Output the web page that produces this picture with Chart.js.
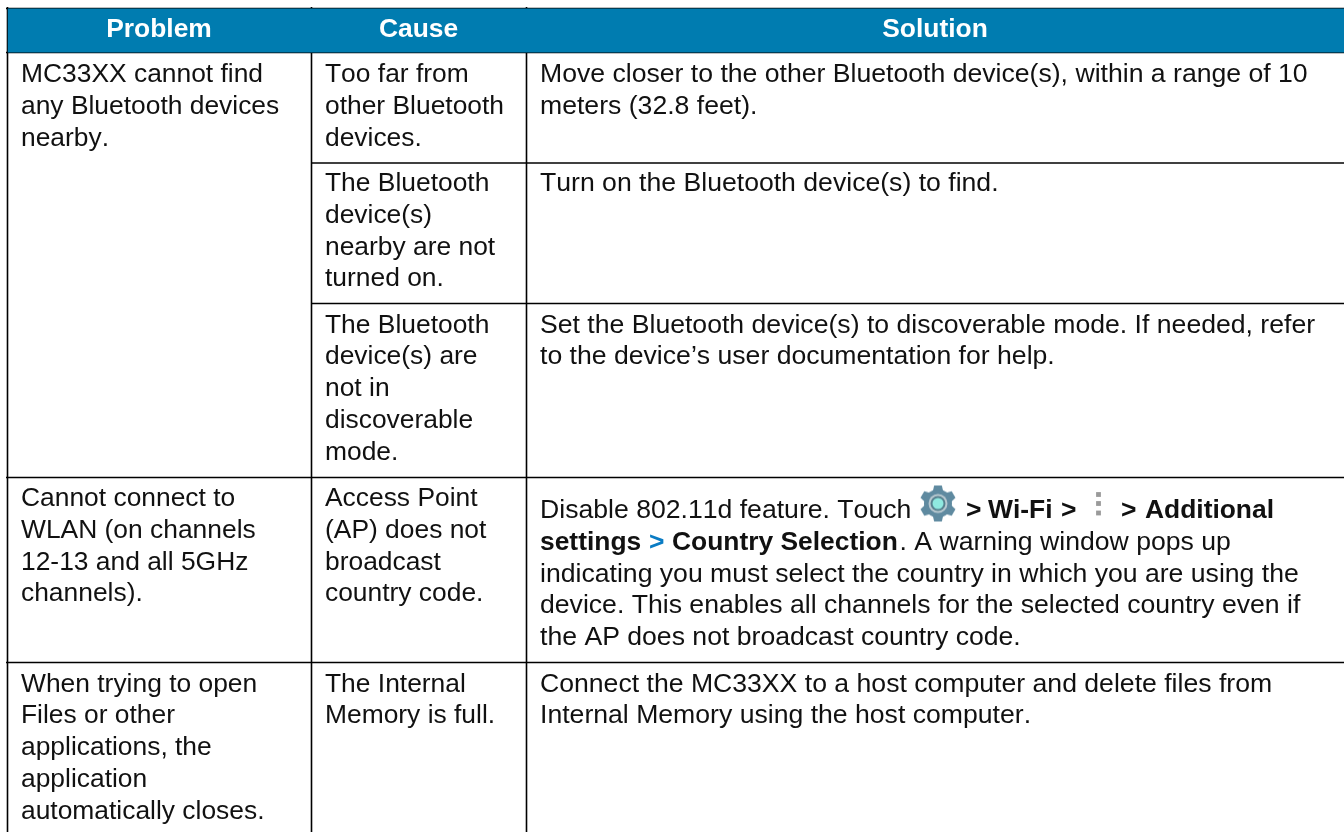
<!DOCTYPE html>
<html>
<head>
<meta charset="utf-8">
<title>Troubleshooting table</title>
<script src="https://cdn.jsdelivr.net/npm/chart.js@4/dist/chart.umd.min.js"></script>
<style>
  html, body { margin: 0; padding: 0; background: #fff; }
  canvas { display: block; }
</style>
</head>
<body>
<canvas id="table" width="1344" height="832"></canvas>
<script>
// === Table content ===
const headers = ["Problem", "Cause", "Solution"];
const headerCenters = [159, 418.5, 935];

const problemCells = [
  ["MC33XX cannot find", "any Bluetooth devices", "nearby."],
  ["Cannot connect to", "WLAN (on channels", "12-13 and all 5GHz", "channels)."],
  ["When trying to open", "Files or other", "applications, the", "application", "automatically closes."]
];
const problemBaselines = [82, 506, 691.5];

const causeCells = [
  ["Too far from", "other Bluetooth", "devices."],
  ["The Bluetooth", "device(s)", "nearby are not", "turned on."],
  ["The Bluetooth", "device(s) are", "not in", "discoverable", "mode."],
  ["Access Point", "(AP) does not", "broadcast", "country code."],
  ["The Internal", "Memory is full."]
];
const causeBaselines = [82, 191, 332.5, 506, 691.5];

const solutionCells = [
  ["Move closer to the other Bluetooth device(s), within a range of 10", "meters (32.8 feet)."],
  ["Turn on the Bluetooth device(s) to find."],
  ["Set the Bluetooth device(s) to discoverable mode. If needed, refer", "to the device\u2019s user documentation for help."],
  [],
  ["Connect the MC33XX to a host computer and delete files from", "Internal Memory using the host computer."]
];
const solutionBaselines = [82, 191, 332.5, 518, 691.5];

// Rich lines of the Wi-Fi row: [text, x, style]
const wifiLine1 = [
  ["Disable 802.11d feature. Touch", 540, "normal"],
  [">", 966, "bold"],
  ["Wi-Fi", 988, "bold"],
  [">", 1061, "bold"],
  [">", 1121, "bold"],
  ["Additional", 1145, "bold"]
];
const wifiLine2 = [
  ["settings", 540, "bold"],
  [">", 649, "blue"],
  ["Country Selection", 672, "bold"],
  [". A warning window pops up", 899.5, "normal"]
];
const wifiPlainLines = [
  "indicating you must select the country in which you are using the",
  "device. This enables all channels for the selected country even if",
  "the AP does not broadcast country code."
];

// Table rules
const columnRules = [7.5, 311.5, 526.5];
const fullRowRules = [8.5, 52.5, 477.5, 662.5];
const causeRowRules = [163, 303.5];

// Inline icons
const gearPoint = [{ x: 938, y: 503.5 }];
const kebabPoints = [{ x: 1098.5, y: 494.5 }, { x: 1098.5, y: 503.5 }, { x: 1098.5, y: 513 }];

const FONT_SIZE = 26.4;
const SOLUTION_FONT_SIZE = 26.62;
const LINE_PITCH = 31.8;
const TEXT_COLOR = "#111111";
const RULE_COLOR = "#000000";

function makeGear() {
  const c = document.createElement("canvas");
  c.width = 44;
  c.height = 44;
  const g = c.getContext("2d");
  g.translate(22, 22);
  g.filter = "blur(0.6px)";
  g.fillStyle = "#5f8aa0";
  for (let i = 0; i < 6; i++) {
    g.save();
    g.rotate(i * Math.PI / 3);
    g.beginPath();
    g.moveTo(-5.5, -11);
    g.lineTo(-3.8, -18);
    g.lineTo(3.8, -18);
    g.lineTo(5.5, -11);
    g.closePath();
    g.fill();
    g.restore();
  }
  g.beginPath(); g.arc(0, 0, 14, 0, Math.PI * 2); g.fill();
  g.fillStyle = "#b8c8d0";
  g.beginPath(); g.arc(0, 0, 9.5, 0, Math.PI * 2); g.fill();
  g.fillStyle = "#56808f";
  g.beginPath(); g.arc(0, 0, 7.5, 0, Math.PI * 2); g.fill();
  g.fillStyle = "#8fe9e0";
  g.beginPath(); g.arc(0, 0, 5.5, 0, Math.PI * 2); g.fill();
  return c;
}

// Cell text goes through the chart's own scales
const tableText = {
  id: "tableText",
  afterDatasetsDraw(chart) {
    const ctx = chart.ctx;
    const xs = chart.scales.x;
    const ys = chart.scales.y;
    const fontOf = (size, bold) => `${bold ? "bold " : ""}${size}px "Liberation Sans", Arial, sans-serif`;
    const normalFont = fontOf(FONT_SIZE, false);
    const boldFont = fontOf(FONT_SIZE, true);
    const solutionFont = fontOf(SOLUTION_FONT_SIZE, false);

    function put(text, x, y, font, color, align) {
      ctx.font = font;
      ctx.fontKerning = "none";
      ctx.fillStyle = color;
      ctx.textAlign = align || "left";
      ctx.textBaseline = "alphabetic";
      ctx.fillText(text, xs.getPixelForValue(x), ys.getPixelForValue(y));
    }
    function putColumn(cells, baselines, x, font) {
      cells.forEach((lines, i) => {
        lines.forEach((line, j) => put(line, x, baselines[i] + j * LINE_PITCH, font, TEXT_COLOR));
      });
    }

    ctx.save();
    headers.forEach((h, i) => put(h, headerCenters[i], 37, boldFont, "#ffffff", "center"));
    putColumn(problemCells, problemBaselines, 21, normalFont);
    putColumn(causeCells, causeBaselines, 325, normalFont);
    putColumn(solutionCells, solutionBaselines, 540, solutionFont);

    const wifiY = solutionBaselines[3];
    [wifiLine1, wifiLine2].forEach((runs, i) => {
      runs.forEach(([text, x, style]) => {
        const font = style === "normal" ? solutionFont : boldFont;
        const color = style === "blue" ? "#0a7cc4" : TEXT_COLOR;
        put(text, x, wifiY + i * LINE_PITCH, font, color);
      });
    });
    wifiPlainLines.forEach((line, i) => {
      put(line, 540, wifiY + (i + 2) * LINE_PITCH, solutionFont, TEXT_COLOR);
    });
    ctx.restore();
  }
};

function ruleDataset(points) {
  return {
    type: "line",
    data: points,
    borderColor: RULE_COLOR,
    borderWidth: 1.6,
    pointRadius: 0,
    fill: false,
    tension: 0
  };
}

const datasets = [
  // header band
  {
    type: "line",
    data: [{ x: columnRules[0], y: fullRowRules[0] }, { x: 1344, y: fullRowRules[0] }],
    borderWidth: 0,
    pointRadius: 0,
    backgroundColor: "#007cb0",
    fill: { value: fullRowRules[1] }
  },
  ...columnRules.map(x => ruleDataset([{ x: x, y: 7 }, { x: x, y: 832 }])),
  ...fullRowRules.map(y => ruleDataset([{ x: 6, y: y }, { x: 1344, y: y }])),
  ...causeRowRules.map(y => ruleDataset([{ x: columnRules[1], y: y }, { x: 1344, y: y }])),
  {
    type: "scatter",
    data: gearPoint,
    pointStyle: makeGear(),
    pointRadius: 18
  },
  {
    type: "scatter",
    data: kebabPoints,
    pointStyle: "rect",
    pointRadius: 3.4,
    borderWidth: 0,
    backgroundColor: "#9a9a9a"
  }
];

const chart = new Chart(document.getElementById("table").getContext("2d"), {
  type: "scatter",
  data: { datasets: datasets },
  options: {
    responsive: false,
    animation: false,
    layout: { padding: 0, autoPadding: false },
    plugins: { legend: { display: false }, tooltip: { enabled: false }, title: { display: false } },
    scales: {
      x: { type: "linear", min: 0, max: 1344, display: false },
      y: { type: "linear", min: 0, max: 832, reverse: true, display: false }
    }
  },
  plugins: [tableText]
});
</script>
</body>
</html>
